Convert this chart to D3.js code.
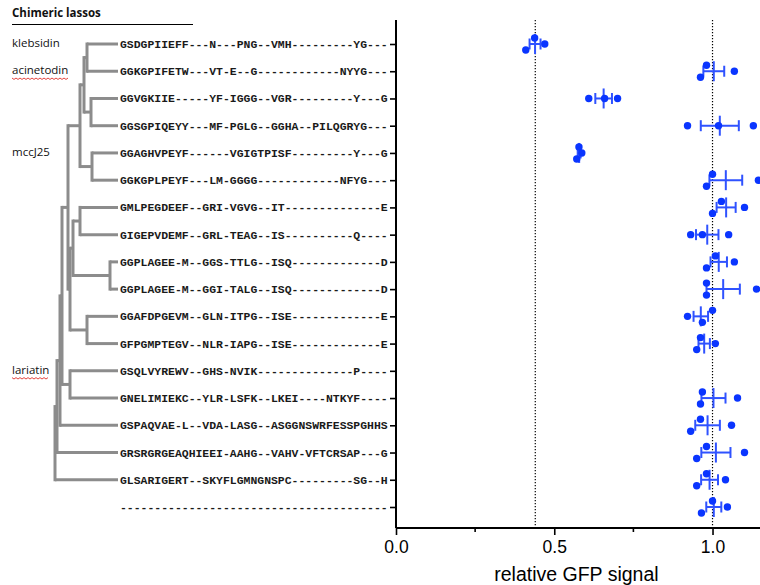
<!DOCTYPE html>
<html>
<head>
<meta charset="utf-8">
<script src="https://cdn.jsdelivr.net/npm/d3@7"></script>
<style>
  html, body { margin: 0; padding: 0; background: #fff; }
  svg { display: block; }
</style>
</head>
<body>
<svg id="chart" width="760" height="585"></svg>
<script>
// ---------------- data ----------------
const sequences = [
  "GSDGPIIEFF---N---PNG--VMH---------YG---",
  "GGKGPIFETW---VT-E--G------------NYYG---",
  "GGVGKIIE-----YF-IGGG--VGR---------Y---G",
  "GGSGPIQEYY---MF-PGLG--GGHA--PILQGRYG---",
  "GGAGHVPEYF------VGIGTPISF---------Y---G",
  "GGKGPLPEYF---LM-GGGG------------NFYG---",
  "GMLPEGDEEF--GRI-VGVG--IT--------------E",
  "GIGEPVDEMF--GRL-TEAG--IS----------Q----",
  "GGPLAGEE-M--GGS-TTLG--ISQ-------------D",
  "GGPLAGEE-M--GGI-TALG--ISQ-------------D",
  "GGAFDPGEVM--GLN-ITPG--ISE-------------E",
  "GFPGMPTEGV--NLR-IAPG--ISE-------------E",
  "GSQLVYREWV--GHS-NVIK--------------P----",
  "GNELIMIEKC--YLR-LSFK--LKEI----NTKYF----",
  "GSPAQVAE-L--VDA-LASG--ASGGNSWRFESSPGHHS",
  "GRSRGRGEAQHIEEI-AAHG--VAHV-VFTCRSAP---G",
  "GLSARIGERT--SKYFLGMNGNSPC---------SG--H",
  "---------------------------------------"
];

// relative GFP signal, three replicates per row (row 13 = lariatin, not measured)
const gfpValues = [
  [0.410, 0.438, 0.470],
  [0.962, 0.981, 1.069],
  [0.609, 0.659, 0.700],
  [0.921, 1.019, 1.129],
  [0.571, 0.578, 0.587],
  [0.981, 1.000, 1.145],
  [1.000, 1.028, 1.101],
  [0.931, 0.968, 1.051],
  [0.981, 1.009, 1.069],
  [0.981, 0.981, 1.139],
  [0.921, 0.968, 1.000],
  [0.950, 0.962, 1.009],
  [],
  [0.962, 0.968, 1.079],
  [0.931, 0.962, 1.060],
  [0.950, 0.981, 1.101],
  [0.950, 0.981, 1.041],
  [0.965, 1.000, 1.047]
];

const lassoNames = ["klebsidin", "acinetodin", "mccJ25", "lariatin"];
const lassoNameRows = [0, 1, 4, 12];
const misspelled = ["acinetodin", "lariatin"];

const refLines = [0.44, 1.0];
const majorTicks = [0, 0.5, 1.0];
const minorTicks = [0.25, 0.75];
const xTitle = "relative GFP signal";
const panelTitle = "Chimeric lassos";

// cladogram: internal nodes carry their depth (d), leaves their row
const tree = { d: 0, children: [
  { d: 2, children: [
    { d: 5, children: [
      { d: 7, children: [
        { d: 13, children: [
          { d: 25, children: [
            { d: 29, children: [
              { d: 32, children: [ { row: 0 }, { row: 1 } ] },
              { d: 36, children: [ { row: 2 }, { row: 3 } ] }
            ]},
            { d: 37, children: [ { row: 4 }, { row: 5 } ] }
          ]},
          { d: 15, children: [
            { d: 18, children: [
              { d: 25, children: [ { row: 6 }, { row: 7 } ] },
              { d: 55, children: [ { row: 8 }, { row: 9 } ] }
            ]},
            { d: 32, children: [ { row: 10 }, { row: 11 } ] }
          ]}
        ]},
        { d: 15, children: [ { row: 12 }, { row: 13 } ] }
      ]},
      { row: 14 }
    ]},
    { row: 15 }
  ]},
  { row: 16 }
]};
const treeLeafDepth = 63;

// ---------------- layout ----------------
const svg = d3.select("#chart");
const rows = d3.range(sequences.length);

const y = d3.scalePoint().domain(rows).range([44, 507]);
const x = d3.scaleLinear().domain([0, 1.15]).range([396, 760]);
const tx = d3.scaleLinear().domain([0, treeLeafDepth]).range([55, 118]);

const plotTop = 20, plotBottom = 528;
const dotColor = "#0a35ff";
const barColor = "#2f52ff";

// ---- title
svg.append("text").attr("x", 12).attr("y", 17)
  .attr("font-family", "Open Sans, Liberation Sans, sans-serif")
  .attr("font-weight", "bold").attr("font-size", 11.5)
  .attr("fill", "#111").text(panelTitle);
svg.append("line").attr("x1", 12).attr("x2", 193).attr("y1", 24.5).attr("y2", 24.5)
  .attr("stroke", "#000").attr("stroke-width", 1);

// ---- lasso names
lassoNames.forEach((n, i) => {
  const t = svg.append("text").attr("x", 12).attr("y", y(lassoNameRows[i]) + 3)
    .attr("font-family", "Open Sans, Liberation Sans, sans-serif")
    .attr("font-size", 11.5).attr("fill", "#111").text(n);
  if (misspelled.includes(n)) {
    const w = t.node().getComputedTextLength();
    const yy = y(lassoNameRows[i]) + 7;
    const pts = d3.range(0, Math.floor(w / 2) + 1).map(k => [12 + k * 2, yy + (k % 2 ? 1.2 : -0.2)]);
    svg.append("path").attr("d", d3.line()(pts)).attr("fill", "none")
      .attr("stroke", "#e0302a").attr("stroke-width", 0.9);
  }
});

// ---- tree
const root = d3.hierarchy(tree);
root.eachAfter(nd => {
  if (!nd.children) { nd.px = tx(treeLeafDepth); nd.py = y(nd.data.row); }
  else {
    nd.px = tx(nd.data.d);
    nd.py = (nd.children[0].py + nd.children[nd.children.length - 1].py) / 2;
  }
});
const tg = svg.append("g").attr("fill", "none").attr("stroke", "#8c8c8c")
  .attr("stroke-width", 3).attr("stroke-linecap", "butt");
root.descendants().forEach(nd => {
  if (nd.children) {
    const a = nd.children[0].py, b = nd.children[nd.children.length - 1].py;
    tg.append("path").attr("d", `M${nd.px},${a - 1.5}V${b + 1.5}`);
  }
  if (nd.parent) {
    tg.append("path").attr("d", `M${nd.parent.px},${nd.py}H${nd.px}`);
  }
});

// ---- sequences
svg.append("g").selectAll("text").data(sequences).join("text")
  .attr("x", 120).attr("y", (d, i) => y(i) + 4)
  .attr("font-family", "Liberation Mono, Courier New, monospace")
  .attr("font-weight", "bold").attr("font-size", 11.45)
  .attr("fill", "#1a1a1a").attr("xml:space", "preserve")
  .text(d => d);

// ---- axes
const yAxis = d3.axisLeft(y).tickSize(6).tickFormat("");
const ya = svg.append("g").attr("transform", `translate(${x(0)},0)`).call(yAxis);
ya.select(".domain").attr("d", `M0,${plotTop}V${plotBottom}`).attr("stroke-width", 2);
ya.selectAll(".tick line").attr("stroke-width", 1.6);

const xa = svg.append("g").attr("transform", `translate(0,${plotBottom})`)
  .call(d3.axisBottom(x).tickValues(majorTicks).tickSize(7).tickPadding(6)
    .tickFormat(d3.format(".1f")));
xa.select(".domain").attr("d", `M${x(0)},0H760`).attr("stroke-width", 2);
xa.selectAll(".tick line").attr("stroke-width", 1.6);
xa.selectAll(".tick text").attr("font-family", "Liberation Sans, Arial, sans-serif")
  .attr("font-size", 17.5).attr("fill", "#000");
xa.selectAll(".minor").data(minorTicks).join("line").attr("class", "minor")
  .attr("x1", d => x(d)).attr("x2", d => x(d)).attr("y1", 0).attr("y2", 4)
  .attr("stroke", "#000").attr("stroke-width", 1.6);

svg.append("text").attr("x", x(0.57)).attr("y", 581).attr("text-anchor", "middle")
  .attr("font-family", "Liberation Sans, Arial, sans-serif").attr("font-size", 19.5)
  .attr("fill", "#000").text(xTitle);

// ---- reference dotted lines
svg.append("g").selectAll("line").data(refLines).join("line")
  .attr("x1", d => x(d)).attr("x2", d => x(d))
  .attr("y1", plotTop).attr("y2", plotBottom)
  .attr("stroke", "#000").attr("stroke-width", 1.2).attr("stroke-dasharray", "1.2,1.8");

// ---- points, means and SEM
const plot = svg.append("g");
const clip = svg.append("clipPath").attr("id", "pc").append("rect")
  .attr("x", x(0)).attr("y", 0).attr("width", 760 - x(0)).attr("height", plotBottom);
plot.attr("clip-path", "url(#pc)");

const dotR = 3.7, jit = 6, minD = 11.5;
gfpValues.forEach((vals, r) => {
  if (!vals.length) return;
  const cy = y(r);
  const mean = d3.mean(vals);
  const sem = d3.deviation(vals) / Math.sqrt(vals.length);
  // error bar (SEM) and mean marker
  const g = plot.append("g").attr("stroke", barColor).attr("stroke-width", 2).attr("fill", "none");
  g.append("line").attr("x1", x(mean - sem)).attr("x2", x(mean + sem)).attr("y1", cy).attr("y2", cy);
  [mean - sem, mean + sem].forEach(v => g.append("line")
    .attr("x1", x(v)).attr("x2", x(v)).attr("y1", cy - 5.5).attr("y2", cy + 5.5));
  g.append("line").attr("x1", x(mean)).attr("x2", x(mean)).attr("y1", cy - 10).attr("y2", cy + 10);

  // simple swarm placement of replicates
  const placed = [];
  vals.slice().sort(d3.ascending).forEach(v => {
    const px = x(v);
    const hits = placed.filter(p => Math.hypot(p.px - px, p.dy) < minD);
    if (hits.length === 1 && hits[0].dy === 0 &&
        placed.filter(p => p !== hits[0] && Math.hypot(p.px - hits[0].px, p.dy - jit) < minD).length === 0) {
      hits[0].dy = jit;
      placed.push({ v, px, dy: -jit });
      return;
    }
    if (!hits.length) { placed.push({ v, px, dy: 0 }); return; }
    let best = 0, bestD = -1;
    [0, -jit, jit].forEach(dy => {
      const md = d3.min(placed, p => Math.hypot(p.px - px, p.dy - dy));
      if (md > bestD) { bestD = md; best = dy; }
    });
    placed.push({ v, px, dy: best });
  });
  plot.append("g").selectAll("circle").data(placed).join("circle")
    .attr("cx", d => d.px).attr("cy", d => cy + d.dy).attr("r", dotR)
    .attr("fill", dotColor);
});
</script>
</body>
</html>
